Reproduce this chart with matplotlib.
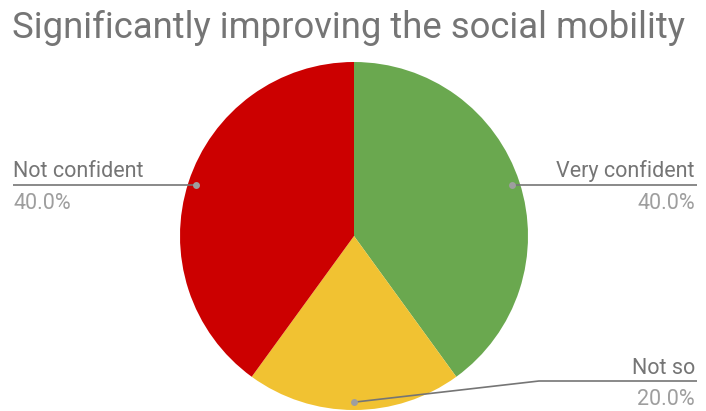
import matplotlib
matplotlib.use("Agg")
import matplotlib.pyplot as plt
import numpy as np

# Data
labels = ["Very confident", "Not so", "Not confident"]
values = [40, 20, 40]
colors = ["#6aa84f", "#f1c232", "#cc0000"]
title = "Significantly improving the social mobility"

W, H = 706, 411
fig = plt.figure(figsize=(W / 100, H / 100), dpi=100)
ax = fig.add_axes([0, 0, 1, 1])
ax.set_xlim(0, W)
ax.set_ylim(0, H)
ax.set_aspect("equal")
ax.axis("off")

cx, cy, R = 354, H - 236, 174
wedges, _ = ax.pie(values, colors=colors, startangle=90, counterclock=False,
                   center=(cx, cy), radius=R, frame=True,
                   wedgeprops=dict(linewidth=0))
ax.set_xlim(0, W)
ax.set_ylim(0, H)
ax.axis("off")

plt.rcParams["font.family"] = ["Roboto", "DejaVu Sans"]

fig.text(12 / W, 1 - 38 / H, title, fontsize=26.3, color="#757575",
         ha="left", va="baseline", family=["Roboto", "DejaVu Sans"])

total = sum(values)
line_col = "#757575"
dot_col = "#9e9e9e"
fs = 15.5
# label layout: (line y in image px, text side x)
layouts = {
    "Very confident": dict(line_y=186, x_end=697, ha="right", tx=695, elbow=None),
    "Not so": dict(line_y=381, x_end=697, ha="right", tx=695, elbow=539),
    "Not confident": dict(line_y=186, x_end=13, ha="left", tx=13, elbow=None),
}
for w, lab, v in zip(wedges, labels, values):
    ang = np.deg2rad((w.theta1 + w.theta2) / 2)
    dx = cx + 0.955 * R * np.cos(ang)
    dy = cy + 0.955 * R * np.sin(ang)
    L = layouts[lab]
    ly = H - L["line_y"]
    if L["elbow"] is None:
        xs = [dx, L["x_end"]]
        ys = [dy, dy]
        ly = dy
    else:
        xs = [dx, L["elbow"], L["x_end"]]
        ys = [dy, ly, ly]
    ax.plot(xs, ys, color=line_col, lw=1.2, solid_capstyle="butt", zorder=3)
    ax.plot([dx], [dy], "o", color=dot_col, ms=5, mec="none", zorder=4)
    ax.text(L["tx"], ly + 7.5, lab, ha=L["ha"], va="baseline", fontsize=fs,
            color="#757575")
    ax.text(L["tx"], ly - 24, f"{v / total * 100:.1f}%", ha=L["ha"],
            va="baseline", fontsize=fs, color="#9e9e9e")

fig.savefig("out.png", dpi=100)
